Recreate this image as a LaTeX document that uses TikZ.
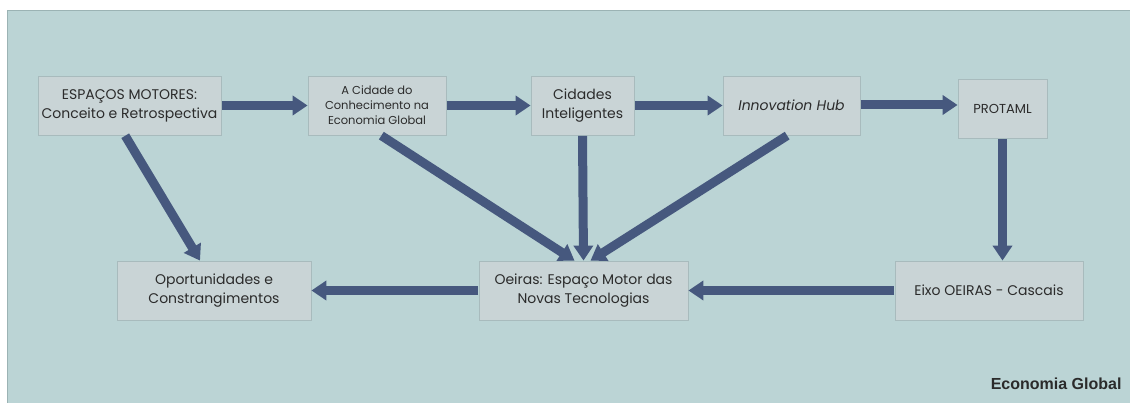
\documentclass[tikz,border=0pt]{standalone}
\usepackage{fontspec}
\setmainfont{Poppins}
\newfontfamily\labelfont{Liberation Sans}
\usetikzlibrary{arrows.meta}
\definecolor{panel}{HTML}{BBD4D5}
\definecolor{paneledge}{HTML}{9BB3B4}
\definecolor{boxfill}{HTML}{C9D4D6}
\definecolor{boxedge}{HTML}{A8BBBD}
\definecolor{flow}{HTML}{46587E}
\definecolor{ink}{HTML}{2B2B2B}
\tikzset{
  stagebox/.style={draw=boxedge, fill=boxfill, line width=0.8pt, align=center,
    text=ink, inner sep=2pt, minimum height=59pt},
  big/.style={font=\fontsize{14}{19}\selectfont},
  small/.style={font=\fontsize{11.5}{15}\selectfont},
  flowarrow/.style={draw=flow, line width=9pt,
    -{Triangle[length=15pt,width=19pt]}, shorten <=0.4pt}
}
\begin{document}
\begin{tikzpicture}[x=1pt,y=-1pt]
  % page and panel
  \useasboundingbox (0,0) rectangle (1130,403);
  \fill[white] (0,0) rectangle (1130,403);
  \fill[panel] (7,10) rectangle (1130,403);
  \draw[paneledge, line width=1pt] (7.5,403) -- (7.5,10.5) -- (1130,10.5);

  % top row
  \node[stagebox, big, minimum width=183pt] (esp) at (129.5,105.5)
    {ESPAÇOS MOTORES:\\Conceito e Retrospectiva};
  \node[stagebox, small, minimum width=138pt] (cid) at (377,105.5)
    {A Cidade do\\Conhecimento na\\Economia Global};
  \node[stagebox, big, minimum width=103pt] (intel) at (582.5,105.5)
    {Cidades\\Inteligentes};
  \node[stagebox, big, minimum width=137pt] (hub) at (791.5,105.5)
    {\itshape Innovation Hub};
  \node[stagebox, font=\fontsize{13}{17}\selectfont, minimum width=89pt] (prot) at (1002.5,108.5)
    {PROTAML};

  % bottom row
  \node[stagebox, big, minimum width=194pt] (opo) at (214,290.5)
    {Oportunidades e\\Constrangimentos};
  \node[stagebox, big, minimum width=209pt] (oei) at (583.5,290.5)
    {Oeiras: Espaço Motor das\\Novas Tecnologias};
  \node[stagebox, big, minimum width=188pt] (eixo) at (989,290.5)
    {Eixo OEIRAS - Cascais};

  % caption
  \node[anchor=east, text=ink, font=\labelfont\bfseries\fontsize{16}{19}\selectfont]
    (cap) at (1125,384) {Economia Global};

  % horizontal flow along the top
  \draw[flowarrow] (esp) -- (cid);
  \draw[flowarrow] (cid) -- (intel);
  \draw[flowarrow] (intel) -- (hub);
  \draw[flowarrow] ([yshift=0.5pt]hub.east) -- ([yshift=0.5pt]prot.west |- hub.east);

  % down the right side and back along the bottom
  \draw[flowarrow] (prot.south) -- (prot.south |- eixo.north);
  \draw[flowarrow] (eixo) -- (oei);
  \draw[flowarrow] (oei) -- (opo);

  % converging links
  \draw[flowarrow] ([xshift=-4.5pt]esp.south) -- ([xshift=-14pt]opo.north);
  \draw[flowarrow] ([xshift=4pt]cid.south) -- ([xshift=-9pt]oei.north);
  \draw[flowarrow] (intel.south) -- (oei.north);
  \draw[flowarrow] ([xshift=-4pt]hub.south) -- ([xshift=7pt]oei.north);
\end{tikzpicture}
\end{document}
